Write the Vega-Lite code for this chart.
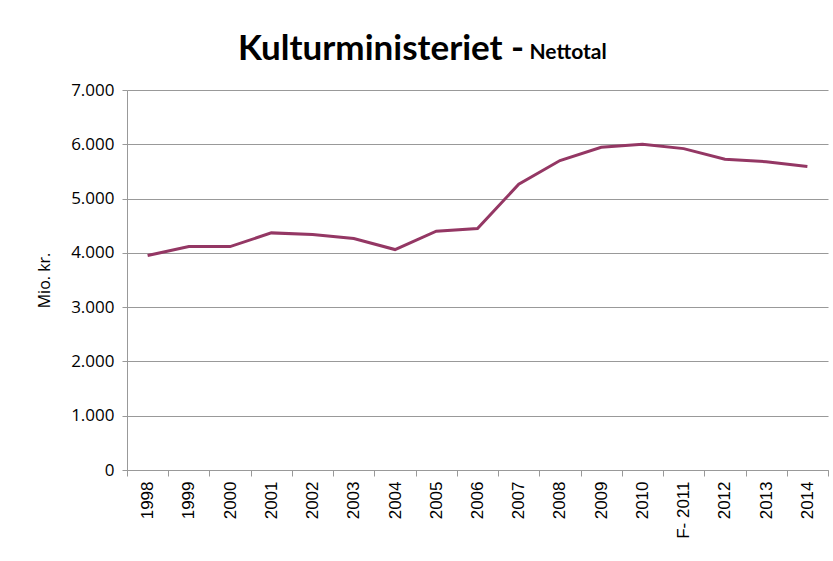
{
  "$schema": "https://vega.github.io/schema/vega-lite/v6.json",
  "width": 701,
  "height": 380,
  "autosize": "none",
  "padding": {"left": 127, "top": 90, "right": 5, "bottom": 91},
  "background": "white",
  "title": {
    "text": "Kulturministeriet -",
    "font": "Lato",
    "fontSize": 35,
    "fontWeight": "bold",
    "color": "#000000",
    "anchor": "start",
    "frame": "group",
    "dx": 111,
    "dy": 50,
    "offset": 24
  },
  "data": {
    "values": [
      {"year": "1998", "value": 3950},
      {"year": "1999", "value": 4116},
      {"year": "2000", "value": 4116},
      {"year": "2001", "value": 4368},
      {"year": "2002", "value": 4337},
      {"year": "2003", "value": 4263},
      {"year": "2004", "value": 4061},
      {"year": "2005", "value": 4398},
      {"year": "2006", "value": 4448},
      {"year": "2007", "value": 5265},
      {"year": "2008", "value": 5700},
      {"year": "2009", "value": 5945},
      {"year": "2010", "value": 6000},
      {"year": "F- 2011", "value": 5920},
      {"year": "2012", "value": 5724},
      {"year": "2013", "value": 5680},
      {"year": "2014", "value": 5590}
    ]
  },
  "encoding": {
    "x": {
      "field": "year",
      "type": "ordinal",
      "sort": null,
      "bandPosition": 0.5,
      "scale": {"type": "band", "paddingInner": 0, "paddingOuter": 0},
      "axis": {
        "title": null,
        "labelAngle": -90,
        "labelFont": "Liberation Sans",
        "labelFontSize": 17,
        "labelColor": "#000000",
        "labelPadding": 5,
        "tickBand": "extent",
        "tickSize": 6,
        "tickColor": "#999999",
        "domainColor": "#999999",
        "grid": false
      }
    }
  },
  "layer": [
    {
      "mark": {"type": "line", "color": "#943764", "strokeWidth": 3},
      "encoding": {
        "y": {
          "field": "value",
          "type": "quantitative",
          "scale": {"domain": [0, 7000], "nice": false},
          "axis": {
            "title": "Mio. kr.",
            "titleFont": "Open Sans",
            "titleFontSize": 16,
            "titleFontWeight": "normal",
            "titleColor": "#000000",
            "titlePadding": 18,
            "values": [0, 1000, 2000, 3000, 4000, 5000, 6000, 7000],
            "labelExpr": "replace(format(datum.value, ','), ',', '.')",
            "labelFont": "Open Sans",
            "labelFontSize": 17,
            "labelColor": "#000000",
            "labelPadding": 8,
            "tickSize": 5,
            "tickColor": "#999999",
            "domainColor": "#999999",
            "grid": true,
            "gridColor": "#999999",
            "gridWidth": 1
          }
        }
      }
    },
    {
      "mark": {"type": "line", "opacity": 0},
      "encoding": {
        "y": {
          "field": "value",
          "type": "quantitative",
          "axis": {
            "orient": "right",
            "domain": false,
            "ticks": false,
            "labels": false,
            "grid": false,
            "title": "Nettotal",
            "titleFont": "Lato",
            "titleFontSize": 21,
            "titleFontWeight": "bold",
            "titleColor": "#000000",
            "titleAngle": 0,
            "titleAlign": "left",
            "titleBaseline": "alphabetic",
            "titleX": -299,
            "titleY": -32
          }
        }
      }
    }
  ],
  "resolve": {"axis": {"y": "independent"}},
  "config": {
    "view": {"stroke": null},
    "axis": {"domainWidth": 1, "tickWidth": 1}
  }
}
